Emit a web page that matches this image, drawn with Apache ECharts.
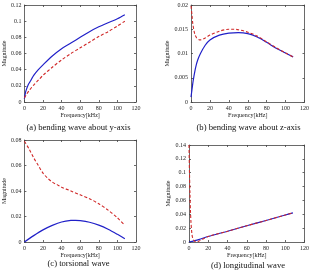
<!DOCTYPE html>
<html>
<head>
<meta charset="utf-8">
<script src="https://cdn.jsdelivr.net/npm/echarts@6/dist/echarts.min.js"></script>
<style>
  html, body { margin: 0; padding: 0; background: #fff; }
  #chart { width: 312px; height: 270px; }
</style>
</head>
<body>
<div id="chart"></div>
<script>
// 数据：每个子图两条曲线，[频率kHz, 幅值]
const freqTicks = [0, 20, 40, 60, 80, 100, 120];

const aBlue = [[0,0.004],[1,0.011],[2,0.015],[4,0.021],[6,0.025],[8,0.029],[10,0.033],[15,0.040],[20,0.046],[30,0.057],[40,0.066],[50,0.073],[60,0.080],[70,0.087],[80,0.093],[90,0.098],[100,0.103],[108,0.108]];
const aRed = [[0,0.005],[2,0.009],[5,0.014],[10,0.021],[15,0.027],[20,0.033],[30,0.043],[40,0.052],[50,0.060],[60,0.067],[70,0.074],[80,0.081],[90,0.087],[100,0.094],[108,0.100]];

const bBlue = [[0,0.001],[1,0.0025],[2,0.004],[3,0.0052],[5,0.0072],[7,0.0086],[10,0.0100],[15,0.0117],[20,0.0128],[30,0.0138],[40,0.0142],[50,0.0143],[60,0.0141],[70,0.0134],[80,0.0123],[90,0.0111],[100,0.0101],[108,0.0093]];
const bRed = [[0,0.0198],[1,0.0180],[2,0.0160],[4,0.0140],[6,0.0132],[8,0.0129],[10,0.0128],[15,0.0132],[20,0.0138],[30,0.0146],[40,0.0150],[45,0.0150],[50,0.0149],[60,0.0144],[70,0.0136],[80,0.0124],[90,0.0112],[100,0.0101],[108,0.0093]];

const cBlue = [[0,0],[10,0.005],[20,0.0095],[30,0.013],[40,0.0157],[50,0.0169],[55,0.0170],[60,0.0168],[70,0.0155],[80,0.0132],[90,0.0100],[100,0.0060],[108,0.0025]];
const cRed = [[0,0.079],[5,0.073],[10,0.066],[15,0.060],[20,0.054],[25,0.050],[30,0.047],[35,0.045],[40,0.043],[50,0.040],[60,0.037],[70,0.034],[80,0.030],[90,0.025],[100,0.019],[108,0.013]];

const dBlue = [[0,0],[10,0.0035],[20,0.008],[40,0.0155],[60,0.0235],[80,0.031],[100,0.039],[108,0.042]];
const dRed = [[0,0.140],[0.5,0.100],[1,0.070],[1.5,0.045],[2,0.030],[3,0.012],[4,0.005],[6,0.001],[8,0.0005],[10,0.001],[14,0.004],[20,0.008],[40,0.0155],[60,0.0235],[80,0.031],[100,0.039],[108,0.042]];

const yMax = [0.12, 0.02, 0.08, 0.14];
const yStep = [0.02, 0.005, 0.02, 0.02];
const captions = ["(a) bending wave about y-axis", "(b) bending wave about z-axis", "(c) torsional wave", "(d) longitudinal wave"];
const panels = [[aBlue, aRed], [bBlue, bRed], [cBlue, cRed], [dBlue, dRed]];

const FONT = "Liberation Serif";
const AXIS = "#444";

// 子图位置
const grids = [
  { left: 21, top: 5, width: 115, height: 97 },
  { left: 191, top: 5, width: 115, height: 97 },
  { left: 21, top: 140, width: 115, height: 102 },
  { left: 189, top: 145, width: 118, height: 97 },
];
const captionTop = [123, 123, 259, 261];

let option = {
  animation: false,
  backgroundColor: "#fff",
  grid: grids.map(g => Object.assign({ show: false, containLabel: false }, g)),
  title: [],
  xAxis: [],
  yAxis: [],
  series: [],
};

grids.forEach((g, i) => {
  option.title.push({
    text: captions[i],
    left: g.left + g.width / 2,
    top: captionTop[i],
    padding: 0,
    textAlign: "center",
    textStyle: { fontFamily: FONT, fontSize: 8.6, fontWeight: "normal", color: "#111" },
  });
  // 下方坐标轴
  option.xAxis.push({
    gridIndex: i, type: "value", min: 0, max: 120, interval: 20, position: "bottom",
    name: "Frequency[kHz]", nameLocation: "middle", nameGap: 10,
    nameTextStyle: { fontFamily: FONT, fontSize: 6, color: "#222" },
    axisLine: { onZero: false, lineStyle: { color: AXIS, width: 0.8 } },
    axisTick: { inside: true, length: 2, lineStyle: { color: AXIS, width: 0.8 } },
    axisLabel: { fontFamily: FONT, fontSize: 6, color: "#222", margin: 3,
      formatter: v => freqTicks.includes(v) ? String(v) : "" },
    splitLine: { show: false },
  });
  // 上方镜像轴（只有刻度）
  option.xAxis.push({
    gridIndex: i, type: "value", min: 0, max: 120, interval: 20, position: "top",
    axisLine: { onZero: false, lineStyle: { color: AXIS, width: 0.8 } },
    axisTick: { inside: true, length: 2, lineStyle: { color: AXIS, width: 0.8 } },
    axisLabel: { show: false }, splitLine: { show: false },
  });
  option.yAxis.push({
    gridIndex: i, type: "value", min: 0, max: yMax[i], interval: yStep[i], position: "left",
    name: "Magnitude", nameLocation: "middle", nameGap: i === 1 ? 17 : 14, nameRotate: 90,
    nameTextStyle: { fontFamily: FONT, fontSize: 6, color: "#222" },
    axisLine: { onZero: false, lineStyle: { color: AXIS, width: 0.8 } },
    axisTick: { inside: true, length: 2, lineStyle: { color: AXIS, width: 0.8 } },
    axisLabel: { fontFamily: FONT, fontSize: 6, color: "#222", margin: 3,
      formatter: v => String(parseFloat(v.toFixed(4))) },
    splitLine: { show: false },
  });
  option.yAxis.push({
    gridIndex: i, type: "value", min: 0, max: yMax[i], interval: yStep[i], position: "right",
    axisLine: { onZero: false, lineStyle: { color: AXIS, width: 0.8 } },
    axisTick: { inside: true, length: 2, lineStyle: { color: AXIS, width: 0.8 } },
    axisLabel: { show: false }, splitLine: { show: false },
  });
  option.series.push({
    type: "line", xAxisIndex: 2 * i, yAxisIndex: 2 * i, data: panels[i][0],
    smooth: 0.3, showSymbol: false, lineStyle: { color: "#2020c8", width: 1.2 },
  });
  option.series.push({
    type: "line", xAxisIndex: 2 * i, yAxisIndex: 2 * i, data: panels[i][1],
    smooth: 0.3, showSymbol: false, lineStyle: { color: "#d02828", width: 1.1, type: [3, 2] },
  });
});

let chart = echarts.init(document.getElementById("chart"), null, { renderer: "canvas" });
chart.setOption(option);
</script>
</body>
</html>
